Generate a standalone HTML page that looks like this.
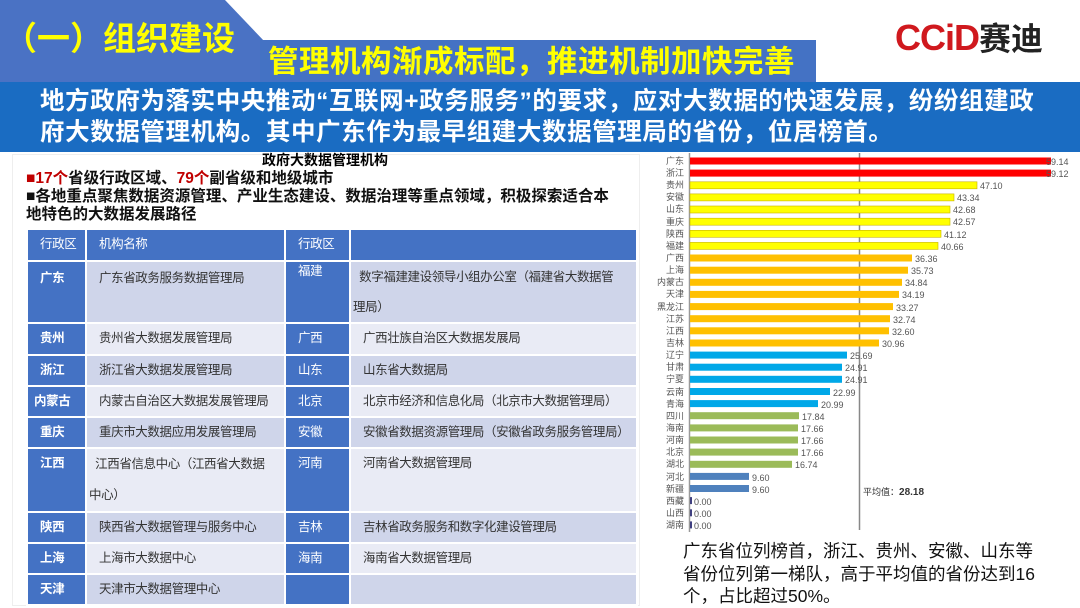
<!DOCTYPE html>
<html><head><meta charset="utf-8">
<style>
*{margin:0;padding:0;box-sizing:border-box}
body{width:1080px;height:607px;overflow:hidden;background:#fff;position:relative;font-family:"Liberation Sans","Noto Sans CJK SC",sans-serif}
.abs{position:absolute}
table{border-collapse:collapse;position:absolute;left:26px;top:228px;width:610px;font-size:12.5px;table-layout:fixed;letter-spacing:-0.4px}
td{border:2px solid #fff;vertical-align:top;padding:0 4px 0 12px;color:#333;line-height:28px;white-space:nowrap;overflow:hidden}
td.h{background:#4472c4;color:#fff}
td.b{font-weight:bold}
tr.d td{background:#cfd5ea}
tr.l td{background:#e9ebf5}
tr.d td.h,tr.l td.h{background:#4472c4}
</style></head><body>
<svg class="abs" style="left:0;top:0" width="1080" height="152">
<polygon points="0,0 225,0 265,42 265,82 0,82" fill="#4a72c4"/>
<rect x="260" y="40" width="556" height="44" fill="#4472c4"/>
<rect x="0" y="82" width="1080" height="70" fill="#1a6cc2"/>
</svg>
<div class="abs" style="left:4px;top:17px;font-size:33px;font-weight:bold;color:#ffff00;line-height:44px">（一）组织建设</div>
<div class="abs" style="left:268px;top:41px;font-size:30.5px;font-weight:bold;color:#ffff00;line-height:42px;letter-spacing:0.5px;white-space:nowrap">管理机构渐成标配，推进机制加快完善</div>
<div class="abs" style="left:40px;top:86px;width:1040px;font-size:24.5px;font-weight:bold;color:#fff;line-height:31px;letter-spacing:0.6px;white-space:nowrap">地方政府为落实中央推动“互联网+政务服务”的要求，应对大数据的快速发展，纷纷组建政<br>府大数据管理机构。其中广东作为最早组建大数据管理局的省份，位居榜首。</div>
<div class="abs" style="left:895px;top:16px;font-size:36px;font-weight:bold;line-height:44px;white-space:nowrap"><span style="color:#d0191e;letter-spacing:-1px">CCiD</span><span style="color:#222;font-size:32px">赛迪</span></div>

<div class="abs" style="left:12px;top:154px;width:628px;height:452px;border:1px solid #eee"></div>
<div class="abs" style="left:0;top:152px;width:650px;text-align:center;font-size:14px;font-weight:bold;line-height:17px">政府大数据管理机构</div>
<div class="abs" style="left:26px;top:170px;width:600px;font-size:15.5px;font-weight:bold;line-height:18px;color:#111;white-space:nowrap"><span style="color:#c00000">■17个</span>省级行政区域、<span style="color:#c00000">79个</span>副省级和地级城市<br>■各地重点聚焦数据资源管理、产业生态建设、数据治理等重点领域，积极探索适合本<br>地特色的大数据发展路径</div>

<table>
<col style="width:59px"><col style="width:199px"><col style="width:65px"><col style="width:287px">
<tr style="height:32px"><td class="h">行政区</td><td class="h">机构名称</td><td class="h">行政区</td><td class="h"></td></tr>
<tr class="d" style="height:62px"><td class="h b" style="line-height:32px">广东</td><td style="line-height:32px">广东省政务服务数据管理局</td><td class="h" style="line-height:14px;padding-top:2px">福建</td><td style="padding-left:2px;line-height:30px">&nbsp;&nbsp;数字福建建设领导小组办公室（福建省大数据管<br>理局）</td></tr>
<tr class="l" style="height:32px"><td class="h b">贵州</td><td>贵州省大数据发展管理局</td><td class="h">广西</td><td>广西壮族自治区大数据发展局</td></tr>
<tr class="d" style="height:31px"><td class="h b">浙江</td><td>浙江省大数据发展管理局</td><td class="h">山东</td><td>山东省大数据局</td></tr>
<tr class="l" style="height:31px"><td class="h b" style="padding-left:6px">内蒙古</td><td>内蒙古自治区大数据发展管理局</td><td class="h">北京</td><td>北京市经济和信息化局（北京市大数据管理局）</td></tr>
<tr class="d" style="height:31px"><td class="h b">重庆</td><td>重庆市大数据应用发展管理局</td><td class="h">安徽</td><td>安徽省数据资源管理局（安徽省政务服务管理局）</td></tr>
<tr class="l" style="height:64px"><td class="h b">江西</td><td style="padding-left:2px;line-height:31px">&nbsp;&nbsp;江西省信息中心（江西省大数据<br>中心）</td><td class="h">河南</td><td>河南省大数据管理局</td></tr>
<tr class="d" style="height:31px"><td class="h b">陕西</td><td>陕西省大数据管理与服务中心</td><td class="h">吉林</td><td>吉林省政务服务和数字化建设管理局</td></tr>
<tr class="l" style="height:31px"><td class="h b">上海</td><td>上海市大数据中心</td><td class="h">海南</td><td>海南省大数据管理局</td></tr>
<tr class="d" style="height:31px"><td class="h b">天津</td><td>天津市大数据管理中心</td><td class="h"></td><td></td></tr>
</table>

<svg class="abs" style="left:0;top:0" width="1080" height="607" font-family="Liberation Sans,Noto Sans CJK SC,sans-serif" font-size="9" fill="#555">
<line x1="689.5" y1="153" x2="689.5" y2="532" stroke="#999" stroke-width="1.5"/>
<line x1="859.5" y1="153" x2="859.5" y2="530" stroke="#888" stroke-width="1.5"/>
<g text-anchor="end">
<text x="684" y="164">广东</text><text x="684" y="176">浙江</text><text x="684" y="188">贵州</text><text x="684" y="200">安徽</text><text x="684" y="212">山东</text><text x="684" y="225">重庆</text><text x="684" y="237">陕西</text><text x="684" y="249">福建</text><text x="684" y="261">广西</text><text x="684" y="273">上海</text><text x="684" y="285">内蒙古</text><text x="684" y="297">天津</text><text x="684" y="310">黑龙江</text><text x="684" y="322">江苏</text><text x="684" y="334">江西</text><text x="684" y="346">吉林</text><text x="684" y="358">辽宁</text><text x="684" y="370">甘肃</text><text x="684" y="382">宁夏</text><text x="684" y="395">云南</text><text x="684" y="407">青海</text><text x="684" y="419">四川</text><text x="684" y="431">海南</text><text x="684" y="443">河南</text><text x="684" y="455">北京</text><text x="684" y="467">湖北</text><text x="684" y="480">河北</text><text x="684" y="492">新疆</text><text x="684" y="504">西藏</text><text x="684" y="516">山西</text><text x="684" y="528">湖南</text>
</g>
<g>
<rect x="690" y="157.5" width="361" height="7" fill="#ff0000"/>
<rect x="690" y="169.6" width="361" height="7" fill="#ff0000"/>
<rect x="690" y="181.8" width="287" height="7" fill="#ffff00" stroke="#c8b400" stroke-width="0.6"/>
<rect x="690" y="193.9" width="264" height="7" fill="#ffff00" stroke="#c8b400" stroke-width="0.6"/>
<rect x="690" y="206" width="260" height="7" fill="#ffff00" stroke="#c8b400" stroke-width="0.6"/>
<rect x="690" y="218.2" width="260" height="7" fill="#ffff00" stroke="#c8b400" stroke-width="0.6"/>
<rect x="690" y="230.3" width="251" height="7" fill="#ffff00" stroke="#c8b400" stroke-width="0.6"/>
<rect x="690" y="242.4" width="248" height="7" fill="#ffff00" stroke="#c8b400" stroke-width="0.6"/>
<rect x="690" y="254.5" width="222" height="7" fill="#ffc000"/>
<rect x="690" y="266.7" width="218" height="7" fill="#ffc000"/>
<rect x="690" y="278.8" width="212" height="7" fill="#ffc000"/>
<rect x="690" y="290.9" width="209" height="7" fill="#ffc000"/>
<rect x="690" y="303.1" width="203" height="7" fill="#ffc000"/>
<rect x="690" y="315.2" width="200" height="7" fill="#ffc000"/>
<rect x="690" y="327.3" width="199" height="7" fill="#ffc000"/>
<rect x="690" y="339.5" width="189" height="7" fill="#ffc000"/>
<rect x="690" y="351.6" width="157" height="7" fill="#00a8e8"/>
<rect x="690" y="363.7" width="152" height="7" fill="#00a8e8"/>
<rect x="690" y="375.8" width="152" height="7" fill="#00a8e8"/>
<rect x="690" y="388" width="140" height="7" fill="#00a8e8"/>
<rect x="690" y="400.1" width="128" height="7" fill="#00a8e8"/>
<rect x="690" y="412.2" width="109" height="7" fill="#9bbb59"/>
<rect x="690" y="424.4" width="108" height="7" fill="#9bbb59"/>
<rect x="690" y="436.5" width="108" height="7" fill="#9bbb59"/>
<rect x="690" y="448.6" width="108" height="7" fill="#9bbb59"/>
<rect x="690" y="460.8" width="102" height="7" fill="#9bbb59"/>
<rect x="690" y="472.9" width="59" height="7" fill="#4f81bd"/>
<rect x="690" y="485" width="59" height="7" fill="#4f81bd"/>
<rect x="690" y="497.1" width="2" height="7" fill="#404080"/>
<rect x="690" y="509.3" width="2" height="7" fill="#404080"/>
<rect x="690" y="521.4" width="2" height="7" fill="#404080"/>
</g>
<g>
<text x="1046" y="165">59.14</text><text x="1046" y="177">59.12</text><text x="980" y="189">47.10</text><text x="957" y="201">43.34</text><text x="953" y="213">42.68</text><text x="953" y="225">42.57</text><text x="944" y="238">41.12</text><text x="941" y="250">40.66</text><text x="915" y="262">36.36</text><text x="911" y="274">35.73</text><text x="905" y="286">34.84</text><text x="902" y="298">34.19</text><text x="896" y="311">33.27</text><text x="893" y="323">32.74</text><text x="892" y="335">32.60</text><text x="882" y="347">30.96</text><text x="850" y="359">25.69</text><text x="845" y="371">24.91</text><text x="845" y="383">24.91</text><text x="833" y="396">22.99</text><text x="821" y="408">20.99</text><text x="802" y="420">17.84</text><text x="801" y="432">17.66</text><text x="801" y="444">17.66</text><text x="801" y="456">17.66</text><text x="795" y="468">16.74</text><text x="752" y="481">9.60</text><text x="752" y="493">9.60</text><text x="694" y="505">0.00</text><text x="694" y="517">0.00</text><text x="694" y="529">0.00</text>
</g>
<text x="863" y="495" fill="#333">平均值：<tspan font-weight="bold" font-size="10">28.18</tspan></text>
</svg>
<div class="abs" style="left:683px;top:540px;width:385px;font-size:17.5px;line-height:22.5px;color:#111;white-space:nowrap">广东省位列榜首，浙江、贵州、安徽、山东等<br>省份位列第一梯队，高于平均值的省份达到16<br>个，占比超过50%。</div>
</body></html>
